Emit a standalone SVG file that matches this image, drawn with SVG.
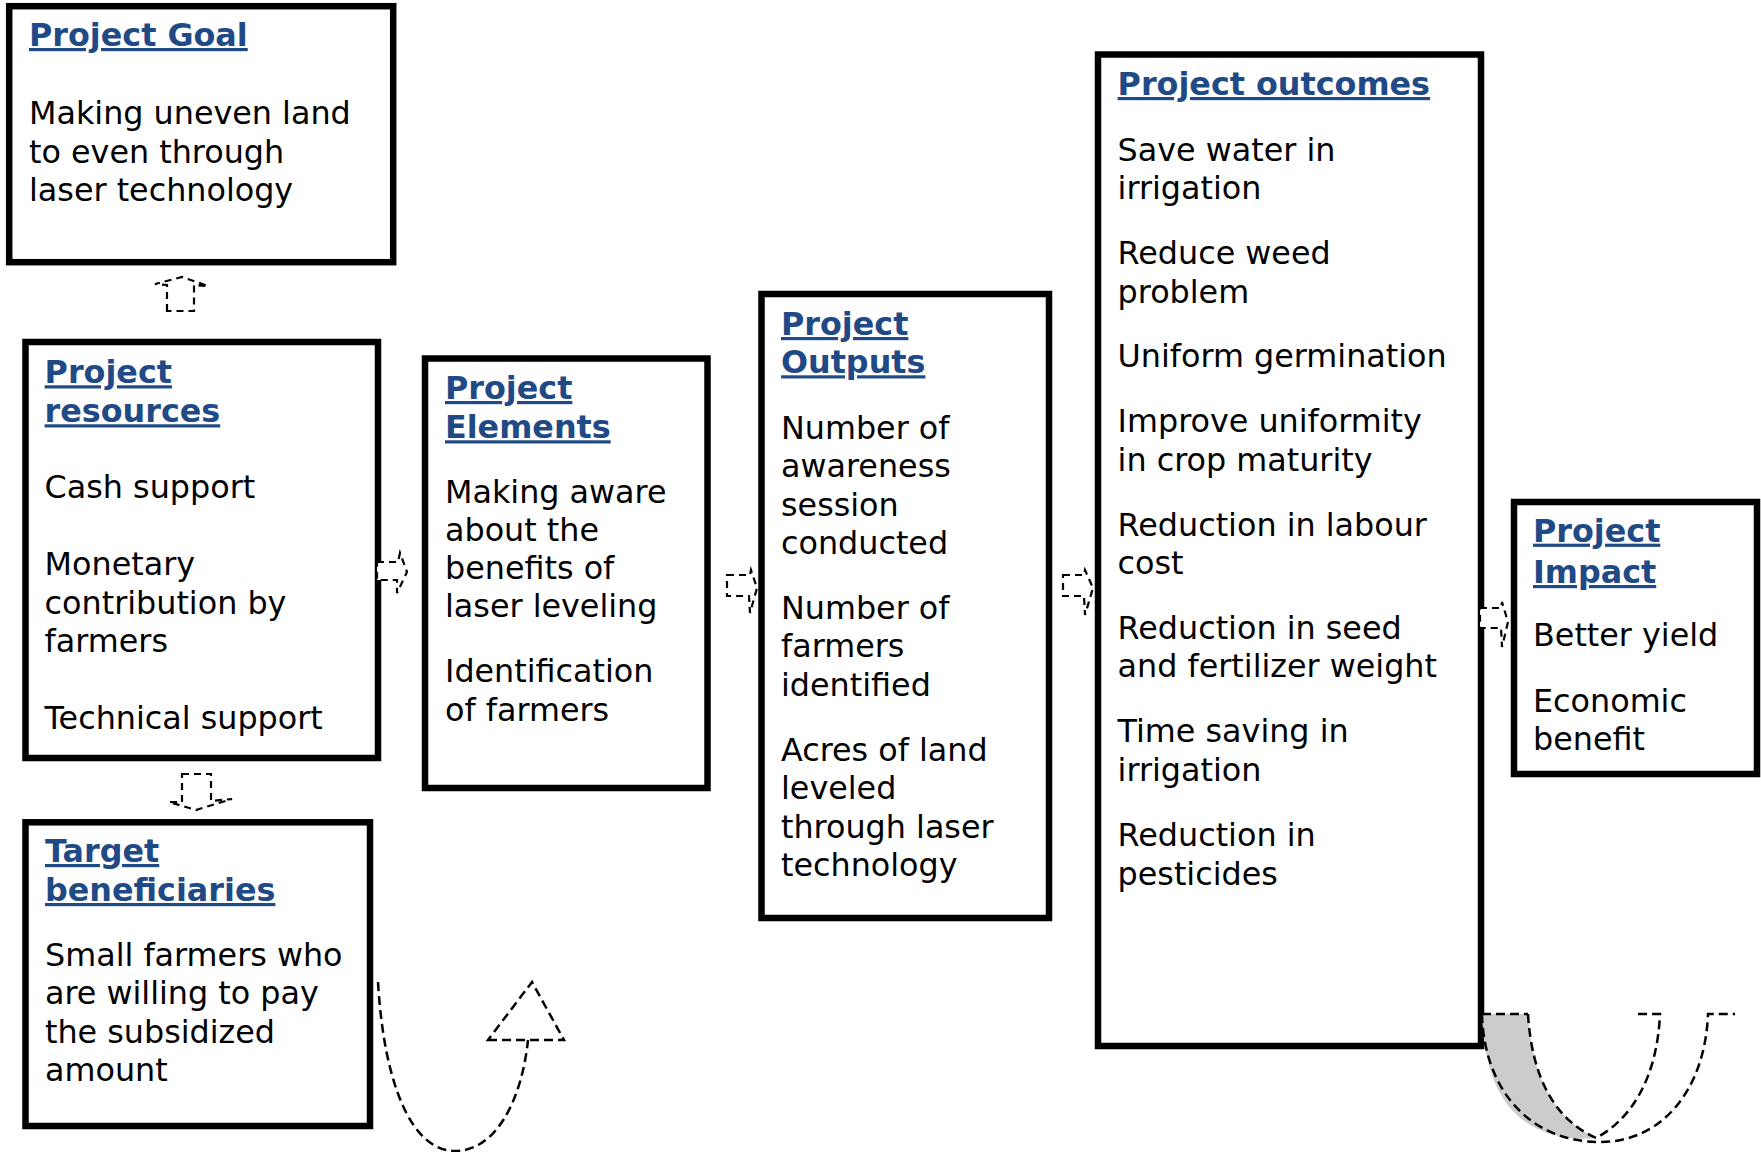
<svg xmlns="http://www.w3.org/2000/svg" width="1761" height="1152" viewBox="0 0 1761 1152">
  <style>
    .box { fill: #ffffff; stroke: #000000; stroke-width: 6.5; }
    .txt { font-family: "DejaVu Sans", Verdana, sans-serif; font-size: 31.8px; fill: #000000; }
    .ttl { font-family: "DejaVu Sans", Verdana, sans-serif; font-size: 31.8px; font-weight: bold; fill: #1F4A85; text-decoration: underline; }
    .arw { fill: #ffffff; stroke: #000000; stroke-width: 2.2; stroke-dasharray: 7 5; stroke-linejoin: miter; }
    .crv { fill: none; stroke: #000000; stroke-width: 2.5; stroke-dasharray: 9 5; }
  </style>

  <rect width="1761" height="1152" fill="#ffffff"/>

  <!-- Goal -->
  <g id="project-goal">
    <rect class="box" x="9.2" y="6.2" width="384" height="256"/>
    <text class="ttl" x="29" y="46">Project Goal</text>
    <text class="txt" x="29" y="124">Making uneven land</text>
    <text class="txt" x="29" y="162.5">to even through</text>
    <text class="txt" x="29" y="201">laser technology</text>
  </g>

  <!-- Resources -->
  <g id="project-resources">
    <rect class="box" x="25.5" y="342" width="352.5" height="416"/>
    <text class="ttl" x="44.6" y="383.3">Project</text>
    <text class="ttl" x="44.6" y="422.3">resources</text>
    <text class="txt" x="44.6" y="498">Cash support</text>
    <text class="txt" x="44.6" y="575">Monetary</text>
    <text class="txt" x="44.6" y="613.5">contribution by</text>
    <text class="txt" x="44.6" y="652">farmers</text>
    <text class="txt" x="44.6" y="728.5">Technical support</text>
  </g>

  <!-- Elements -->
  <g id="project-elements">
    <rect class="box" x="425" y="358.5" width="282.5" height="429.5"/>
    <text class="ttl" x="445" y="399">Project</text>
    <text class="ttl" x="445" y="438.3">Elements</text>
    <text class="txt" x="445" y="502.7">Making aware</text>
    <text class="txt" x="445" y="540.9">about the</text>
    <text class="txt" x="445" y="579.2">benefits of</text>
    <text class="txt" x="445" y="617.4">laser leveling</text>
    <text class="txt" x="445" y="682.3">Identification</text>
    <text class="txt" x="445" y="720.7">of farmers</text>
  </g>

  <!-- Outputs -->
  <g id="project-outputs">
    <rect class="box" x="761.5" y="294" width="287.5" height="624"/>
    <text class="ttl" x="781" y="335">Project</text>
    <text class="ttl" x="781" y="373.3">Outputs</text>
    <text class="txt" x="781" y="439">Number of</text>
    <text class="txt" x="781" y="477.3">awareness</text>
    <text class="txt" x="781" y="515.6">session</text>
    <text class="txt" x="781" y="554">conducted</text>
    <text class="txt" x="781" y="618.5">Number of</text>
    <text class="txt" x="781" y="657">farmers</text>
    <text class="txt" x="781" y="695.5">identified</text>
    <text class="txt" x="781" y="760.5">Acres of land</text>
    <text class="txt" x="781" y="799">leveled</text>
    <text class="txt" x="781" y="837.5">through laser</text>
    <text class="txt" x="781" y="876">technology</text>
  </g>

  <!-- Outcomes -->
  <g id="project-outcomes">
    <rect class="box" x="1098" y="54.5" width="383" height="991.5"/>
    <text class="ttl" x="1117.6" y="95">Project outcomes</text>
    <text class="txt" x="1117.6" y="160.5">Save water in</text>
    <text class="txt" x="1117.6" y="199">irrigation</text>
    <text class="txt" x="1117.6" y="264">Reduce weed</text>
    <text class="txt" x="1117.6" y="302.5">problem</text>
    <text class="txt" x="1117.6" y="367">Uniform germination</text>
    <text class="txt" x="1117.6" y="432">Improve uniformity</text>
    <text class="txt" x="1117.6" y="470.5">in crop maturity</text>
    <text class="txt" x="1117.6" y="535.5">Reduction in labour</text>
    <text class="txt" x="1117.6" y="574">cost</text>
    <text class="txt" x="1117.6" y="638.5">Reduction in seed</text>
    <text class="txt" x="1117.6" y="677">and fertilizer weight</text>
    <text class="txt" x="1117.6" y="742">Time saving in</text>
    <text class="txt" x="1117.6" y="780.5">irrigation</text>
    <text class="txt" x="1117.6" y="846">Reduction in</text>
    <text class="txt" x="1117.6" y="884.5">pesticides</text>
  </g>

  <!-- Impact -->
  <g id="project-impact">
    <rect class="box" x="1514" y="502" width="243" height="272"/>
    <text class="ttl" x="1533" y="541.7">Project</text>
    <text class="ttl" x="1533" y="583">Impact</text>
    <text class="txt" x="1533" y="646">Better yield</text>
    <text class="txt" x="1533" y="712">Economic</text>
    <text class="txt" x="1533" y="749.5">benefit</text>
  </g>

  <!-- Beneficiaries -->
  <g id="target-beneficiaries">
    <rect class="box" x="25.5" y="822.3" width="344.5" height="303.7"/>
    <text class="ttl" x="45" y="862">Target</text>
    <text class="ttl" x="45" y="901">beneficiaries</text>
    <text class="txt" x="45" y="965.5">Small farmers who</text>
    <text class="txt" x="45" y="1004">are willing to pay</text>
    <text class="txt" x="45" y="1042.5">the subsidized</text>
    <text class="txt" x="45" y="1081">amount</text>
  </g>

  <!-- Connectors -->
  <g id="connectors">
    <!-- block arrows between boxes -->
    <polygon class="arw" points="167,311 167,285 155,284 182,277 208,286 194,285 194,311"/>
    <polygon class="arw" points="182,774 211,774 211,801 232,799 196,810 169,802 182,802"/>
    <polygon class="arw" points="377,562 398,562 400,553 407,572 397,593 397,580 377,580"/>
    <polygon class="arw" points="727,575 750,575 751,570 757,588 750,613 749,596 727,596"/>
    <polygon class="arw" points="1063,575 1084,575 1085,570 1093,588 1085,615 1084,596 1063,596"/>
    <polygon class="arw" points="1480,608 1501,608 1502,602 1508,622 1502,647 1501,628 1480,628"/>

    <!-- curved up arrow beside the beneficiaries box -->
    <path class="crv" d="M378,982 C384,1085 412,1151 455,1151 C497,1151 522,1098 528,1040"/>
    <polygon class="crv" points="488,1040 564,1040 532,982"/>

    <!-- U-turn arrow under the outcomes box -->
    <path d="M1482,1014 L1528,1014 C1532,1080 1556,1120 1596,1138 C1560,1142 1530,1130 1512,1110 C1494,1090 1484,1060 1482,1014 Z" fill="#cccccc" stroke="none"/>
    <path class="crv" d="M1482,1014 L1528,1014"/>
    <path class="crv" d="M1482,1014 C1484,1090 1530,1142 1600,1142 C1662,1142 1705,1090 1708,1014 L1735,1014"/>
    <path class="crv" d="M1528,1014 C1532,1080 1556,1120 1596,1138 C1630,1120 1657,1080 1660,1014 L1636,1014"/>
  </g>
</svg>
